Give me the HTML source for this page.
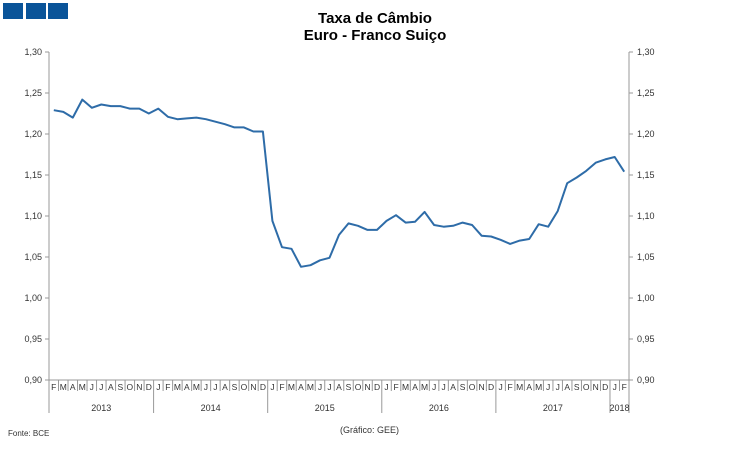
<!DOCTYPE html>
<html><head><meta charset="utf-8"><style>
body{margin:0;background:#fff;width:750px;height:448px;overflow:hidden;font-family:"Liberation Sans",sans-serif}
</style></head><body>
<svg id="s" width="750" height="448" xmlns="http://www.w3.org/2000/svg" font-family="Liberation Sans, sans-serif">
<rect x="3" y="3" width="20" height="16" fill="#0a5499"/>
<rect x="26" y="3" width="20" height="16" fill="#0a5499"/>
<rect x="48" y="3" width="20" height="16" fill="#0a5499"/>
<text x="375" y="23" text-anchor="middle" font-size="15" font-weight="bold">Taxa de Câmbio</text>
<text x="375" y="40" text-anchor="middle" font-size="15" font-weight="bold">Euro - Franco Suiço</text>
<g id="g" stroke="#999" stroke-width="1" fill="none"></g>
<g id="t" font-size="9" fill="#333"></g>
<polyline id="p" fill="none" stroke="#2e6ca8" stroke-width="2" stroke-linejoin="round"/>
<text x="8" y="436" font-size="8" fill="#333">Fonte: BCE</text>
<text x="340" y="433" font-size="9" fill="#333">(Gráfico: GEE)</text>
</svg>
<script>
var d=[1.229,1.227,1.220,1.242,1.232,1.236,1.234,1.234,1.231,1.231,1.225,
1.231,1.221,1.218,1.219,1.220,1.218,1.215,1.212,1.208,1.208,1.203,1.203,
1.094,1.062,1.060,1.038,1.040,1.046,1.049,1.077,1.091,1.088,1.083,1.083,
1.094,1.101,1.092,1.093,1.105,1.089,1.087,1.088,1.092,1.089,1.076,1.075,
1.071,1.066,1.070,1.072,1.090,1.087,1.106,1.140,1.147,1.155,1.165,1.169,1.172,1.154];
var L=49,R=629,W=(R-L)/61,Y=function(v){return 52+(1.30-v)*820};
var g=document.getElementById('g'),t=document.getElementById('t'),NS="http://www.w3.org/2000/svg";
function el(p,n,a,txt){var e=document.createElementNS(NS,n);for(var k in a)e.setAttribute(k,a[k]);if(txt)e.textContent=txt;p.appendChild(e);}
el(g,'line',{x1:L,y1:52,x2:L,y2:413});
el(g,'line',{x1:R,y1:52,x2:R,y2:413});
el(g,'line',{x1:L,y1:380,x2:R,y2:380});
for(var i=0;i<=8;i++){var v=1.30-i*0.05,y=Y(v),s=v.toFixed(2).replace('.',',');
el(g,'line',{x1:L-4,y1:y,x2:L,y2:y});el(g,'line',{x1:R,y1:y,x2:R+4,y2:y});
el(t,'text',{x:L-7,y:y+3,'text-anchor':'end'},s);el(t,'text',{x:R+8,y:y+3},s);}
var m="JFMAMJJASOND";
for(var i=0;i<61;i++){var mi=(i+1)%12,x=L+i*W;
el(g,'line',{x1:x,y1:380,x2:x,y2:(mi==0?413:391)});
el(t,'text',{x:x+W/2,y:390,'text-anchor':'middle','font-size':'8.5'},m[mi]);}
var yrs=[[0,11,'2013'],[11,23,'2014'],[23,35,'2015'],[35,47,'2016'],[47,59,'2017'],[59,61,'2018']];
yrs.forEach(function(a){el(t,'text',{x:L+(a[0]+a[1])/2*W,y:411,'text-anchor':'middle'},a[2]);});
var pts=d.map(function(v,i){return (L+(i+0.5)*W).toFixed(1)+','+Y(v).toFixed(1)}).join(' ');
document.getElementById('p').setAttribute('points',pts);
</script>
</body></html>
